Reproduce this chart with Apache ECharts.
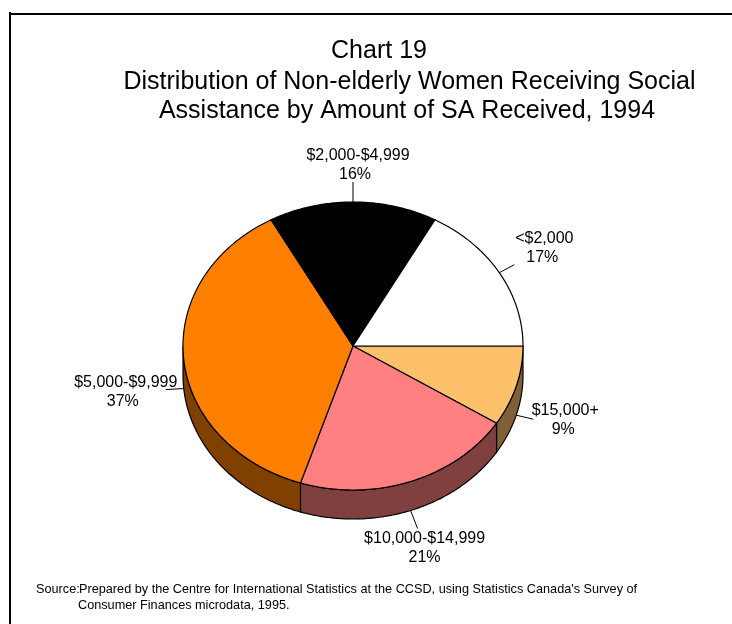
<!DOCTYPE html>
<html><head><meta charset="utf-8">
<style>html,body{margin:0;padding:0;background:#fff}#c{width:732px;height:624px}</style>
<script src="https://cdn.jsdelivr.net/npm/echarts@6/dist/echarts.min.js"></script>
</head><body><div id="c"></div>
<script>
const categories = ['$15,000+', '$10,000-$14,999', '$5,000-$9,999', '$2,000-$4,999', '<$2,000'];
const shares = [9, 21, 37, 16, 17];
const topColors = ['#FFC06C', '#FF8080', '#FF8000', '#000000', '#FFFFFF'];
const wallColors = ['#806036', '#804040', '#804000', '#000000', '#808080'];
const titleLines = ['Chart 19', 'Distribution of Non-elderly Women Receiving Social', 'Assistance by Amount of SA Received, 1994'];
const sourceLines = ['Prepared by the Centre for International Statistics at the CCSD, using Statistics Canada\'s Survey of', 'Consumer Finances microdata, 1995.'];

const FONT = '"Liberation Sans", Arial, sans-serif';
const CX = 353, CY = 346, RX = 170, RY = 144, DEPTH = 29;
// leader end offset and label-block centre offset from the leader's rim point
const leaders = [
  {dx: 17, dy: 4, lx: 49, ly: 5, l2: 47},
  {dx: 7, dy: 18, lx: 14, ly: 38, l2: 14},
  {dx: -18, dy: 1, lx: -58, ly: 4, l2: -61},
  {dx: 0, dy: -20, lx: 5, ly: -37, l2: 2},
  {dx: 15, dy: -8, lx: 45, ly: -25, l2: 43}
];
const total = shares.reduce((a, b) => a + b, 0);
let run = 0;
const tableRows = shares.map((v, i) => { const s = run / total * 2 * Math.PI; run += v; return [i, v, s, run / total * 2 * Math.PI]; });
const pt = (t, dy) => [CX + RX * Math.cos(t), CY + RY * Math.sin(t) + (dy || 0)];
function arc(a, b, dy) { const n = Math.max(2, Math.ceil(Math.abs(b - a) / 0.01)), out = []; for (let k = 0; k <= n; k++) out.push(pt(a + (b - a) * k / n, dy)); return out; }

function renderWedge(params, api) {
  const i = api.value(0), a = api.value(2), b = api.value(3), children = [];
  const wa = Math.min(a, Math.PI), wb = Math.min(b, Math.PI);
  if (wb > wa) {
    children.push({type: 'polygon', shape: {points: arc(wa, wb, 0).concat(arc(wb, wa, DEPTH))},
      style: {fill: wallColors[i], stroke: '#000', lineWidth: 1.2}});
  }
  return {type: 'group', children};
}
function renderTop(params, api) {
  const i = api.value(0), a = api.value(2), b = api.value(3), children = [];
  children.push({type: 'polygon', shape: {points: [[CX, CY]].concat(arc(a, b, 0))},
    style: {fill: topColors[i], stroke: '#000', lineWidth: 1.2}});
  const m = (a + b) / 2, L = leaders[i], p = pt(m, Math.sin(m) > 0.0 ? DEPTH : 0);
  children.push({type: 'line', shape: {x1: p[0], y1: p[1], x2: p[0] + L.dx, y2: p[1] + L.dy}, style: {stroke: '#000', lineWidth: 1, fill: null}});
  const txt = (s, x, y) => ({type: 'text', style: {text: s, x, y, align: 'center', verticalAlign: 'middle', fill: '#000', font: '16px ' + FONT}});
  children.push(txt(categories[i], p[0] + L.lx, p[1] + L.ly - 9.5));
  children.push(txt(shares[i] + '%', p[0] + L.l2, p[1] + L.ly + 9.5));
  return {type: 'group', children};
}
const text = (s, x, y, size, align) => ({type: 'text', style: {text: s, x, y, align: align || 'center', verticalAlign: 'middle', fill: '#000', font: size + 'px ' + FONT}});
const chart = echarts.init(document.getElementById('c'), null, {renderer: 'canvas'});
chart.setOption({
  animation: false,
  backgroundColor: '#fff',
  graphic: [
    {type: 'rect', shape: {x: 9, y: 13, width: 723, height: 2}, style: {fill: '#000'}},
    {type: 'rect', shape: {x: 9, y: 12, width: 2, height: 612}, style: {fill: '#000'}},
    text(titleLines[0], 379, 51.5, 25),
    text(titleLines[1], 409.5, 82, 25),
    text(titleLines[2], 407, 111, 25),
    text('Source:', 36, 589, 12.7, 'left'),
    text(sourceLines[0], 79, 589, 12.7, 'left'),
    text(sourceLines[1], 78, 605, 12.7, 'left')
  ],
  series: [
    {type: 'custom', coordinateSystem: 'none', renderItem: renderWedge, data: tableRows, silent: true, z: 1},
    {type: 'custom', coordinateSystem: 'none', renderItem: renderTop, data: tableRows, silent: true, z: 2}
  ]
});
</script></body></html>
